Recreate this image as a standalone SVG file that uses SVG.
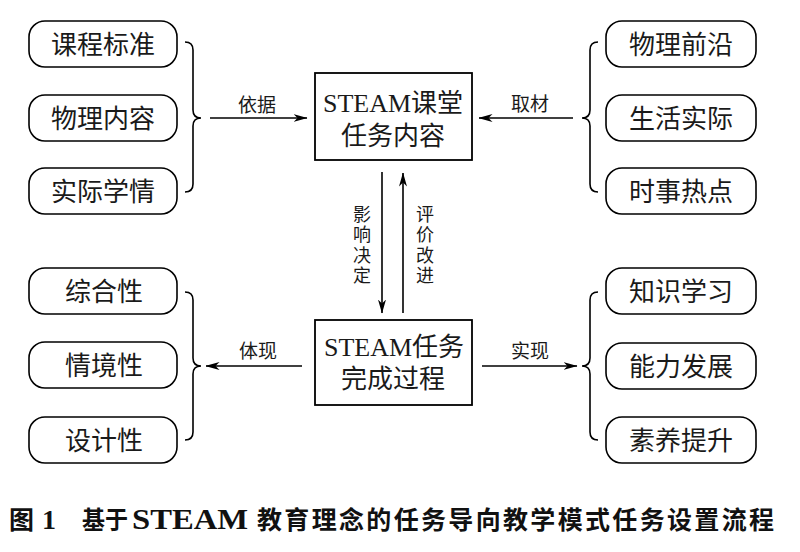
<svg xmlns="http://www.w3.org/2000/svg" width="800" height="552" viewBox="0 0 800 552">
<style>
.pill{fill:#fff;stroke:#000;stroke-width:1.6}
.box{fill:#fff;stroke:#000;stroke-width:1.8}
.t{font-family:"Liberation Serif","Noto Sans CJK SC",serif;font-size:26px;fill:#1a1a1a;text-anchor:middle}
.lb{font-family:"Noto Sans CJK SC",sans-serif;font-size:19px;fill:#1a1a1a;text-anchor:middle}
.vt{font-family:"Noto Sans CJK SC",sans-serif;font-size:18px;fill:#1a1a1a;writing-mode:vertical-rl;letter-spacing:2.5px}
.ln{fill:none;stroke:#000;stroke-width:1.6}
.br{fill:none;stroke:#000;stroke-width:1.6}
.cap{font-family:"Noto Sans CJK SC",sans-serif;font-size:25px;font-weight:bold;fill:#111}
.capl{font-family:"Liberation Serif",serif;font-weight:bold;fill:#111}
</style>
<defs>
<marker id="ah" viewBox="0 0 14 8" refX="13.5" refY="4" markerWidth="14" markerHeight="8" markerUnits="userSpaceOnUse" orient="auto">
<path d="M0,0 L14,4 L0,8 L4,4 Z" fill="#000"/>
</marker>
</defs>
<rect width="800" height="552" fill="#fff"/>

<g id="n-kcbz"><rect class="pill" x="29" y="21" width="148" height="46" rx="16"/><text class="t" x="103" y="54">课程标准</text></g>
<g id="n-wlnr"><rect class="pill" x="29" y="95" width="148" height="46" rx="16"/><text class="t" x="103" y="128">物理内容</text></g>
<g id="n-sjxq"><rect class="pill" x="29" y="168" width="148" height="46" rx="16"/><text class="t" x="103" y="201">实际学情</text></g>

<g id="n-wlqy"><rect class="pill" x="606" y="21" width="150" height="46" rx="16"/><text class="t" x="681" y="54">物理前沿</text></g>
<g id="n-shsj"><rect class="pill" x="606" y="95" width="150" height="46" rx="16"/><text class="t" x="681" y="128">生活实际</text></g>
<g id="n-ssrd"><rect class="pill" x="606" y="168" width="150" height="46" rx="16"/><text class="t" x="681" y="201">时事热点</text></g>

<g id="n-zhx"><rect class="pill" x="29" y="268" width="148" height="46" rx="16"/><text class="t" x="104" y="301">综合性</text></g>
<g id="n-qjx"><rect class="pill" x="29" y="342" width="148" height="46" rx="16"/><text class="t" x="104" y="375">情境性</text></g>
<g id="n-sjx"><rect class="pill" x="29" y="417" width="148" height="46" rx="16"/><text class="t" x="104" y="450">设计性</text></g>

<g id="n-zsxx"><rect class="pill" x="606" y="268" width="150" height="46" rx="16"/><text class="t" x="681" y="301">知识学习</text></g>
<g id="n-nlfz"><rect class="pill" x="606" y="343" width="150" height="46" rx="16"/><text class="t" x="681" y="376">能力发展</text></g>
<g id="n-sytq"><rect class="pill" x="606" y="417" width="150" height="46" rx="16"/><text class="t" x="681" y="450">素养提升</text></g>

<g id="n-content"><rect class="box" x="315" y="73" width="157" height="87"/><text class="t" x="393" y="112">STEAM课堂</text><text class="t" x="393" y="145">任务内容</text></g>
<g id="n-process"><rect class="box" x="315" y="320" width="157" height="85"/><text class="t" x="394" y="356">STEAM任务</text><text class="t" x="393" y="388">完成过程</text></g>

<g id="connectors">
<path class="br" d="M185,42 Q193,42 193,50 L193,110 Q193,118 201,118 Q193,118 193,126 L193,184 Q193,192 185,192"/>
<path class="br" d="M598,42 Q590,42 590,50 L590,110 Q590,118 582,118 Q590,118 590,126 L590,184 Q590,192 598,192"/>
<path class="br" d="M185,292 Q193,292 193,300 L193,358 Q193,366 201,366 Q193,366 193,374 L193,432 Q193,440 185,440"/>
<path class="br" d="M598,292 Q590,292 590,300 L590,358 Q590,366 582,366 Q590,366 590,374 L590,432 Q590,440 598,440"/>

<line class="ln" x1="210" y1="118" x2="307" y2="118" marker-end="url(#ah)"/>
<line class="ln" x1="573" y1="118" x2="479" y2="118" marker-end="url(#ah)"/>
<line class="ln" x1="302" y1="366" x2="206" y2="366" marker-end="url(#ah)"/>
<line class="ln" x1="482" y1="366" x2="577" y2="366" marker-end="url(#ah)"/>
<line class="ln" x1="382" y1="172" x2="382" y2="313" marker-end="url(#ah)"/>
<line class="ln" x1="403" y1="313" x2="403" y2="173" marker-end="url(#ah)"/>

<text class="lb" x="257" y="112">依据</text>
<text class="lb" x="530" y="111">取材</text>
<text class="lb" x="258" y="358">体现</text>
<text class="lb" x="530" y="358">实现</text>

<text class="vt" x="362" y="205">影响决定</text>
<text class="vt" x="425" y="205">评价改进</text>
</g>

<g id="caption">
<text class="cap" x="9" y="529">图</text>
<text class="capl" x="42" y="529" font-size="28">1</text>
<text class="cap" x="82" y="529" textLength="46" lengthAdjust="spacingAndGlyphs">基于</text>
<text class="capl" x="132" y="529" font-size="29" textLength="116" lengthAdjust="spacingAndGlyphs">STEAM</text>
<text class="cap" x="257" y="529" textLength="517" lengthAdjust="spacing">教育理念的任务导向教学模式任务设置流程</text>
</g>
</svg>
